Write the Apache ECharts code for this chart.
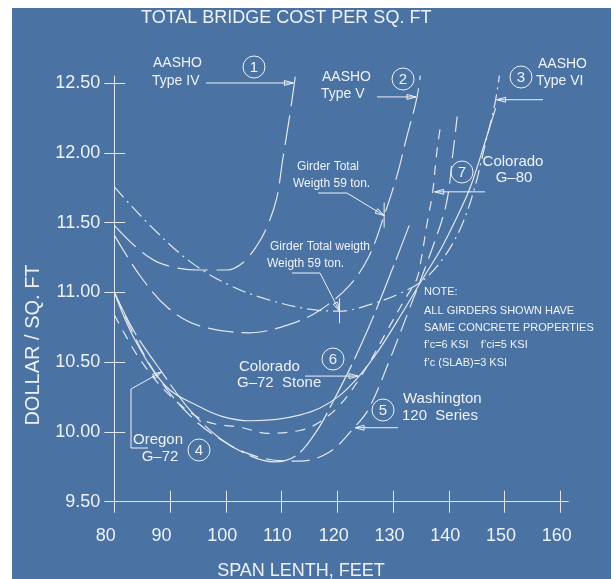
<!DOCTYPE html>
<html>
<head>
<meta charset="utf-8">
<script src="https://cdn.jsdelivr.net/npm/echarts@6/dist/echarts.min.js"></script>
<style>
  html, body { margin: 0; padding: 0; background: #ffffff; }
  #wrap { position: relative; width: 614px; height: 579px; overflow: hidden; }
  #panel { position: absolute; left: 12px; top: 8px; width: 599px; height: 571px; background: #4a72a3; }
  #chart { position: absolute; left: 0; top: 0; width: 614px; height: 579px; }
</style>
</head>
<body>
<div id="wrap">
  <div id="panel"></div>
  <div id="chart"></div>
</div>
<script>
// Axis ticks
const spanTicks = [80, 90, 100, 110, 120, 130, 140, 150, 160];
const costTicks = [9.5, 10.0, 10.5, 11.0, 11.5, 12.0, 12.5];

// Cost curves: [span (ft), cost ($ / sq. ft)]
// 1 - AASHO Type IV
const aashoTypeIV = [[80, 11.48], [84.6, 11.30], [88.8, 11.20], [95.3, 11.16], [100.2, 11.16], [103, 11.21],
  [105.5, 11.33], [107.3, 11.46], [109.1, 11.67], [110.2, 11.95], [111.4, 12.25], [112.3, 12.50], [113.2, 12.78]];
// 2 - AASHO Type V
const aashoTypeV = [[80, 11.41], [84.6, 11.12], [89.6, 10.89], [95.3, 10.76], [104.3, 10.71], [111.4, 10.77],
  [116.8, 10.87], [122.2, 11.05], [125.7, 11.26], [128.4, 11.55], [130.8, 11.85], [132.3, 12.09], [134.3, 12.40], [135.2, 12.66]];
// 3 - AASHO Type VI
const aashoTypeVI = [[80, 11.755], [86.4, 11.48], [93.6, 11.22], [100.7, 11.05], [107.8, 10.945], [114.9, 10.88],
  [120.4, 10.865], [125.7, 10.91], [131.1, 10.99], [135.5, 11.09], [139.1, 11.25], [142.1, 11.46], [144.5, 11.73],
  [146.7, 12.09], [148.4, 12.38], [149.8, 12.78]];
// 4 - Oregon G-72
const oregonG72 = [[80, 11.00], [83.7, 10.71], [88.5, 10.43], [93.5, 10.16], [98.9, 9.955], [104.3, 9.83],
  [108.7, 9.785], [112.6, 9.83], [116.2, 10.00], [119.4, 10.23], [123.0, 10.515], [126.6, 10.84], [130.2, 11.20], [132.9, 11.48]];
// 5 - Washington 120 Series
const washington120 = [[80, 11.00], [86.4, 10.48], [93.5, 10.12], [100.7, 9.906], [106.9, 9.81], [113.2, 9.79],
  [118.6, 9.856], [123.0, 10.03], [125.7, 10.17], [129.6, 10.537], [133.2, 10.91], [136.4, 11.246], [139.5, 11.626],
  [140.8, 12.02], [141.5, 12.26]];
// 6 - Colorado G-72 Stone
const coloradoG72 = [[80, 11.00], [83.7, 10.66], [89.4, 10.32], [95.3, 10.18], [99.4, 10.11], [104.3, 10.08],
  [109.1, 10.09], [113.2, 10.12], [116.8, 10.17], [120.4, 10.26], [123.9, 10.40], [127.5, 10.59], [131.6, 10.85],
  [135.2, 11.09], [138.7, 11.32], [142.3, 11.61], [144.1, 11.78], [146.6, 12.09], [148.4, 12.32]];
// 7 - Colorado G-80
const coloradoG80 = [[80, 10.84], [84.6, 10.52], [90.0, 10.26], [96.2, 10.08], [103.0, 10.03], [107.5, 9.99],
  [113.2, 10.01], [116.4, 10.06], [120.4, 10.19], [124.9, 10.44], [129.0, 10.73], [132.1, 10.95], [134.2, 11.09],
  [135.1, 11.25], [136.0, 11.47], [137.1, 11.72], [137.8, 11.99], [138.5, 12.19]];

// Points where the labels' leaders touch the curves
const leaderTips = {
  c1: [112.3, 12.50], c2: [134.3, 12.40], c3: [148.4, 12.38], c4: [88.5, 10.43],
  c5: [123.0, 10.03], c6: [123.9, 10.40], c7: [137.1, 11.72],
  weightV: [128.4, 11.55], weightVI: [120.4, 10.865]
};

const INK = '#eef2f7';
const CURVE = '#e2e8f0';
const FONT = '"Liberation Sans", Arial, sans-serif';

const X_MIN = 80, X_MAX = 161.43, Y_MIN = 9.5, Y_MAX = 12.55;
const gridBox = { left: 114.3, top: 76, width: 454, height: 425.7 };

function curve(name, data, dash) {
  return {
    name, type: 'line', data, xAxisIndex: 0, yAxisIndex: 0,
    smooth: 0.35, showSymbol: false, symbol: 'none', silent: true,
    lineStyle: { color: CURVE, width: 1.2, type: dash }
  };
}

const chart = echarts.init(document.getElementById('chart'), null, { renderer: 'canvas' });

chart.setOption({
  animation: false,
  backgroundColor: 'transparent',
  grid: [
    Object.assign({}, gridBox),
    { left: gridBox.left - 18.5, top: gridBox.top, width: gridBox.width, height: gridBox.height }
  ],
  xAxis: [
    { type: 'value', gridIndex: 0, min: X_MIN, max: X_MAX, position: 'bottom',
      axisLine: { show: true, lineStyle: { color: '#dfe6ee', width: 1 } },
      axisTick: { show: true, length: 11, customValues: spanTicks, lineStyle: { color: '#dfe6ee', width: 1 } },
      axisLabel: { show: false }, splitLine: { show: false } },
    { type: 'value', gridIndex: 0, min: X_MIN, max: X_MAX, position: 'bottom',
      axisLine: { show: false },
      axisTick: { show: true, inside: true, length: 11, customValues: spanTicks, lineStyle: { color: '#dfe6ee', width: 1 } },
      axisLabel: { show: false }, splitLine: { show: false } },
    { type: 'value', gridIndex: 1, min: X_MIN, max: X_MAX, position: 'bottom',
      axisLine: { show: false }, axisTick: { show: false }, splitLine: { show: false },
      axisLabel: { show: true, customValues: spanTicks, align: 'left', margin: 25,
        color: INK, fontSize: 18, fontFamily: FONT } }
  ],
  yAxis: [
    { type: 'value', gridIndex: 0, min: Y_MIN, max: Y_MAX, position: 'left',
      axisLine: { show: true, lineStyle: { color: '#dfe6ee', width: 1 } },
      axisTick: { show: true, length: 10, customValues: costTicks, lineStyle: { color: '#dfe6ee', width: 1 } },
      axisLabel: { show: true, customValues: costTicks, margin: 14, color: INK, fontSize: 18, fontFamily: FONT,
        formatter: v => v.toFixed(2) },
      splitLine: { show: false } },
    { type: 'value', gridIndex: 0, min: Y_MIN, max: Y_MAX, position: 'left', offset: 0,
      axisLine: { show: false },
      axisTick: { show: true, inside: true, length: 11, customValues: costTicks, lineStyle: { color: '#dfe6ee', width: 1 } },
      axisLabel: { show: false }, splitLine: { show: false } },
    { type: 'value', gridIndex: 1, min: Y_MIN, max: Y_MAX, show: false }
  ],
  series: [
    curve('AASHO Type IV', aashoTypeIV, [30, 9]),
    curve('AASHO Type V', aashoTypeV, [26, 8]),
    curve('AASHO Type VI', aashoTypeVI, [14, 5, 2, 5]),
    curve('Oregon G-72', oregonG72, [48, 6]),
    curve('Washington 120 Series', washington120, [18, 8]),
    curve('Colorado G-72 Stone', coloradoG72, 'solid'),
    curve('Colorado G-80', coloradoG80, [10, 8])
  ]
});

// ---- annotations ----
function px(pt) { return chart.convertToPixel({ xAxisIndex: 0, yAxisIndex: 0 }, pt); }

function text(str, x, y, size, align) {
  return { type: 'text', silent: true, z: 10,
    style: { text: str, x, y, fill: INK, font: size + 'px ' + FONT,
      align: align || 'left', textAlign: align || 'left', verticalAlign: 'middle', textVerticalAlign: 'middle' } };
}
function circleNo(n, cx, cy) {
  return [
    { type: 'circle', silent: true, z: 10, shape: { cx, cy, r: 11 }, style: { fill: null, stroke: INK, lineWidth: 1 } },
    text(String(n), cx, cy + 0.5, 15, 'center')
  ];
}
function arrowHead(tip, from) {
  const dx = tip[0] - from[0], dy = tip[1] - from[1];
  const L = Math.hypot(dx, dy), ux = dx / L, uy = dy / L;
  const len = 9, half = 2.5;
  const bx = tip[0] - ux * len, by = tip[1] - uy * len;
  return { type: 'polygon', silent: true, z: 10,
    shape: { points: [tip, [bx - uy * half, by + ux * half], [bx + uy * half, by - ux * half]] },
    style: { fill: null, stroke: INK, lineWidth: 1 } };
}
function leader(points) {
  return [
    { type: 'polyline', silent: true, z: 10, shape: { points }, style: { fill: null, stroke: INK, lineWidth: 1 } },
    arrowHead(points[points.length - 1], points[points.length - 2])
  ];
}
function vTick(p, up, down) {
  return { type: 'line', silent: true, z: 10, shape: { x1: p[0], y1: p[1] - up, x2: p[0], y2: p[1] + down },
    style: { stroke: INK, lineWidth: 1 } };
}

const t1 = px(leaderTips.c1), t2 = px(leaderTips.c2), t3 = px(leaderTips.c3), t4 = px(leaderTips.c4);
const t5 = px(leaderTips.c5), t6 = px(leaderTips.c6), t7 = px(leaderTips.c7);
const tw5 = px(leaderTips.weightV), tw6 = px(leaderTips.weightVI);

const g = [];
// titles
g.push(text('TOTAL BRIDGE COST PER SQ. FT', 141, 18, 18, 'left'));
g.push(text('SPAN LENTH, FEET', 301, 571, 18, 'center'));
g.push({ type: 'text', silent: true, z: 10, x: 33, y: 345, rotation: Math.PI / 2,
  style: { text: 'DOLLAR / SQ. FT', x: 0, y: 0, fill: INK, font: '20px ' + FONT,
    align: 'center', textAlign: 'center', verticalAlign: 'middle', textVerticalAlign: 'middle' } });

// 1 - AASHO Type IV
g.push(text('AASHO', 153, 63, 14), text('Type IV', 152, 81, 14));
g.push(...circleNo(1, 254, 67));
g.push(...leader([[206, t1[1]], [t1[0] - 1, t1[1]]]));
// 2 - AASHO Type V
g.push(text('AASHO', 322, 77, 14), text('Type V', 321, 94, 14));
g.push(...circleNo(2, 403, 79));
g.push(...leader([[377, t2[1]], [t2[0] - 1, t2[1]]]));
// 3 - AASHO Type VI
g.push(text('AASHO', 538, 64, 14), text('Type VI', 536, 81, 14));
g.push(...circleNo(3, 521, 77));
g.push(...leader([[543, t3[1]], [t3[0] + 1, t3[1]]]));
// 7 - Colorado G-80
g.push(text('Colorado', 513, 162, 15, 'center'), text('G–80', 514, 178, 15, 'center'));
g.push(...circleNo(7, 462, 172));
g.push(...leader([[485, t7[1]], [t7[0] + 2, t7[1]]]));
// 6 - Colorado G-72 Stone
g.push(text('Colorado', 239, 367, 15), text('G–72  Stone', 237, 383, 15));
g.push(...circleNo(6, 333, 359));
g.push(...leader([[305, t6[1]], [t6[0] - 1, t6[1]]]));
// 4 - Oregon G-72
g.push(text('Oregon', 158, 440, 15, 'center'), text('G–72', 160, 457, 15, 'center'));
g.push(...circleNo(4, 199, 450));
g.push(...leader([[148, 448], [131, 448], [131, 389], t4]));
// 5 - Washington 120 Series
g.push(text('Washington', 403, 399, 15), text('120  Series', 402, 416, 15));
g.push(...circleNo(5, 383, 410));
g.push(...leader([[398, t5[1]], [t5[0] + 1, t5[1]]]));

// girder weight limits
g.push(text('Girder Total', 297, 167, 12), text('Weigth 59 ton.', 293, 184, 12));
g.push(...leader([[318, 193], [347, 193], tw5]));
g.push(vTick(tw5, 13, 12));
g.push(text('Girder Total weigth', 270, 247, 12), text('Weigth 59 ton.', 267, 264, 12));
g.push(...leader([[292, 273], [320, 273], tw6]));
g.push(vTick(tw6, 13, 12));

// note
g.push(text('NOTE:', 424, 292, 11));
g.push(text('ALL GIRDERS SHOWN HAVE', 424, 311, 11));
g.push(text('SAME CONCRETE PROPERTIES', 424, 328, 11));
g.push(text('f’c=6 KSI    f’ci=5 KSI', 424, 345, 11));
g.push(text('f’c (SLAB)=3 KSI', 424, 363, 11));

chart.setOption({ graphic: g });
</script>
</body>
</html>
